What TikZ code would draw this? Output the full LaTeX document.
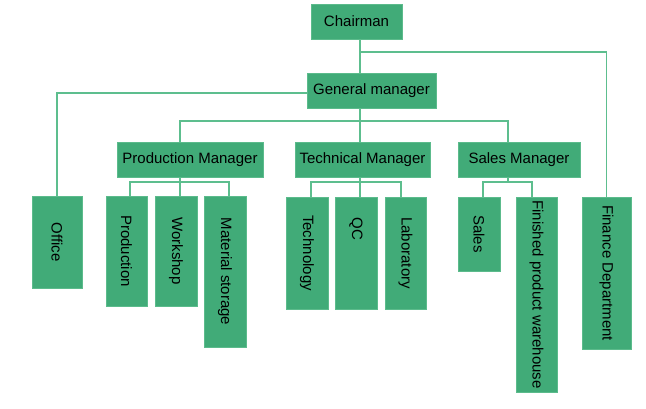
\documentclass[tikz,border=0pt]{standalone}
\usepackage{fontspec}
\setmainfont{Liberation Sans}
\definecolor{boxfill}{HTML}{41AB78}
\definecolor{boxedge}{HTML}{5CBB8C}
\definecolor{linecol}{HTML}{5DBE8E}
\tikzset{
  orgbox/.style={draw=boxedge, line width=0.8pt, fill=boxfill, inner sep=0pt,
    font=\fontsize{15}{18}\selectfont, text=black},
  conn/.style={draw=linecol, line width=1.1pt},
  vtxt/.style={inner sep=0pt, font=\fontsize{15}{18}\selectfont, text=black}
}
\newcommand{\vt}[1]{\rotatebox{-90}{#1}}
\begin{document}
\begin{tikzpicture}[x=1pt,y=-1pt]
\useasboundingbox (0,0) rectangle (646,408);
% top level
\node[orgbox, minimum width=91, minimum height=35] (chair) at (356.5,21.5) {Chairman};
\node[orgbox, minimum width=129, minimum height=35] (gm) at (371.5,90.5) {General manager};
% managers
\node[orgbox, minimum width=146, minimum height=35] (pm) at (190,159.5) {Production Manager};
\node[orgbox, minimum width=135, minimum height=35] (tm) at (362.5,159.5) {Technical Manager};
\node[orgbox, minimum width=122, minimum height=35] (sm) at (519,159.5) {Sales Manager};
% departments
\node[orgbox, minimum width=50, minimum height=92] (off) at (57,242) {\vt{Office}};
\node[orgbox, minimum width=41, minimum height=110] (prod) at (126.5,251) {\vt{Production}};
\node[orgbox, minimum width=42, minimum height=110] (work) at (176,251) {\vt{Workshop}};
\node[orgbox, minimum width=42, minimum height=151] (mat) at (225,271.5) {\vt{Material storage}};
\node[orgbox, minimum width=42, minimum height=112] (techn) at (307,253) {\vt{Technology}};
\node[orgbox, minimum width=42, minimum height=112] (qc) at (356,253) {};
\node[vtxt, anchor=north] (qct) at ([yshift=-21]qc.north) {\vt{QC}};
\node[orgbox, minimum width=41, minimum height=112] (lab) at (405.5,253) {\vt{Laboratory}};
\node[orgbox, minimum width=42, minimum height=74] (sales) at (479,234) {\vt{Sales}};
\node[orgbox, minimum width=41, minimum height=195] (fpw) at (536.5,294.5) {\vt{Finished product warehouse}};
\node[orgbox, minimum width=49, minimum height=152] (fin) at (606.5,273) {\vt{Finance Department}};
% junction coordinates
\coordinate (b0) at (360,52);
\coordinate (b1) at (360,121);
\coordinate (bp) at (180,182);
\coordinate (bt) at (360,182);
\coordinate (bs) at (508,182);
% connectors
\draw[conn] (chair.south -| b0) -- (gm.north -| b0);
\draw[conn] (b0) -| (fin.north);
\draw[conn] ([yshift=-2.5]gm.west) -| (off.north);
\draw[conn] (gm.south -| b1) -- (b1);
\draw[conn] (pm.north -| bp) |- (b1) -| (sm.north -| bs);
\draw[conn] (b1) -- (tm.north -| b1);
% production group
\draw[conn] (pm.south -| bp) -- (work.north -| bp);
\draw[conn] ([xshift=3.5]prod.north) |- (bp) -| ([xshift=4]mat.north);
% technical group
\draw[conn] (tm.south -| bt) -- (qc.north -| bt);
\draw[conn] ([xshift=4]techn.north) |- (bt) -| ([xshift=-4.5]lab.north);
% sales group
\draw[conn] (sm.south -| bs) -- (bs);
\draw[conn] ([xshift=4]sales.north) |- (bs) -| ([xshift=-4.5]fpw.north);
\end{tikzpicture}
\end{document}
